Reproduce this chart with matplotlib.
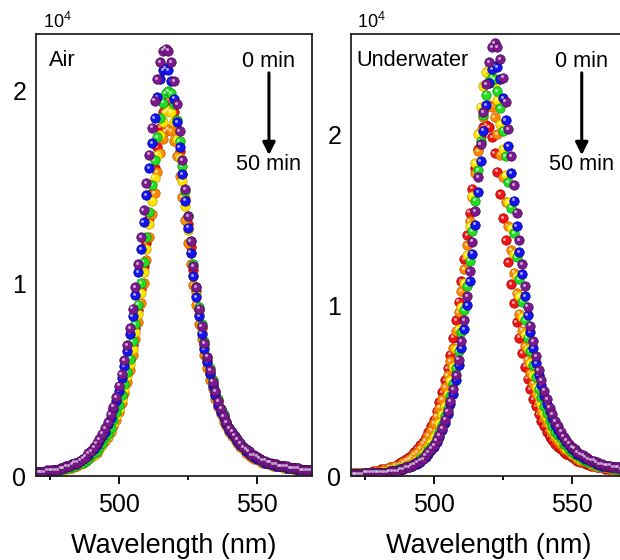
import numpy as np
import matplotlib
matplotlib.use("Agg")
import matplotlib.pyplot as plt
import matplotlib.transforms as mtransforms

plt.rcParams["font.family"] = ["Liberation Sans", "DejaVu Sans"]
plt.rcParams["mathtext.fontset"] = "custom"
plt.rcParams["mathtext.rm"] = "Liberation Sans"

# wavelength grid (nm), 1 nm steps
wavelength = np.arange(470, 571)

# intensity in units of 1e4
air_red = [
    0.02, 0.02, 0.02, 0.02, 0.02, 0.02, 0.02, 0.03, 0.03, 0.03,
    0.04, 0.04, 0.04, 0.05, 0.05, 0.06, 0.06, 0.07, 0.08, 0.09,
    0.10, 0.12, 0.13, 0.15, 0.17, 0.19, 0.22, 0.25, 0.28, 0.32,
    0.36, 0.41, 0.47, 0.53, 0.60, 0.68, 0.77, 0.86, 0.97, 1.09,
    1.21, 1.34, 1.47, 1.60, 1.71, 1.81, 1.89, 1.94, 1.95, 1.94,
    1.89, 1.80, 1.69, 1.57, 1.44, 1.31, 1.19, 1.07, 0.96, 0.86,
    0.77, 0.68, 0.61, 0.54, 0.48, 0.43, 0.39, 0.34, 0.31, 0.28,
    0.25, 0.22, 0.20, 0.18, 0.16, 0.15, 0.13, 0.12, 0.11, 0.10,
    0.09, 0.09, 0.08, 0.07, 0.07, 0.06, 0.06, 0.05, 0.05, 0.05,
    0.04, 0.04, 0.04, 0.04, 0.04, 0.03, 0.03, 0.03, 0.03, 0.03,
    0.03]
air_orange = [
    0.02, 0.02, 0.02, 0.02, 0.02, 0.02, 0.02, 0.03, 0.03, 0.03,
    0.03, 0.04, 0.04, 0.04, 0.05, 0.05, 0.06, 0.07, 0.08, 0.09,
    0.10, 0.11, 0.12, 0.14, 0.16, 0.18, 0.20, 0.23, 0.26, 0.29,
    0.33, 0.38, 0.43, 0.49, 0.55, 0.63, 0.71, 0.80, 0.90, 1.00,
    1.12, 1.24, 1.36, 1.47, 1.58, 1.68, 1.75, 1.79, 1.80, 1.79,
    1.74, 1.66, 1.56, 1.45, 1.33, 1.21, 1.10, 0.99, 0.89, 0.79,
    0.71, 0.63, 0.56, 0.50, 0.45, 0.40, 0.36, 0.32, 0.28, 0.26,
    0.23, 0.21, 0.19, 0.17, 0.15, 0.14, 0.12, 0.11, 0.10, 0.09,
    0.09, 0.08, 0.07, 0.07, 0.06, 0.06, 0.05, 0.05, 0.05, 0.05,
    0.04, 0.04, 0.04, 0.04, 0.03, 0.03, 0.03, 0.03, 0.03, 0.03,
    0.03]
air_yellow = [
    0.02, 0.02, 0.02, 0.02, 0.02, 0.02, 0.02, 0.03, 0.03, 0.03,
    0.03, 0.04, 0.04, 0.05, 0.05, 0.06, 0.06, 0.07, 0.08, 0.09,
    0.10, 0.11, 0.13, 0.14, 0.16, 0.19, 0.21, 0.24, 0.27, 0.31,
    0.35, 0.40, 0.45, 0.52, 0.58, 0.66, 0.75, 0.84, 0.95, 1.06,
    1.18, 1.31, 1.43, 1.55, 1.67, 1.77, 1.84, 1.89, 1.90, 1.89,
    1.84, 1.75, 1.65, 1.53, 1.40, 1.28, 1.16, 1.04, 0.94, 0.84,
    0.75, 0.67, 0.59, 0.53, 0.47, 0.42, 0.38, 0.34, 0.30, 0.27,
    0.24, 0.22, 0.20, 0.18, 0.16, 0.14, 0.13, 0.12, 0.11, 0.10,
    0.09, 0.08, 0.08, 0.07, 0.07, 0.06, 0.06, 0.05, 0.05, 0.05,
    0.04, 0.04, 0.04, 0.04, 0.04, 0.03, 0.03, 0.03, 0.03, 0.03,
    0.03]
air_green = [
    0.02, 0.02, 0.02, 0.02, 0.02, 0.02, 0.02, 0.03, 0.03, 0.03,
    0.04, 0.04, 0.04, 0.05, 0.05, 0.06, 0.07, 0.07, 0.08, 0.09,
    0.11, 0.12, 0.13, 0.15, 0.17, 0.20, 0.22, 0.25, 0.29, 0.33,
    0.37, 0.42, 0.48, 0.54, 0.61, 0.70, 0.79, 0.89, 1.00, 1.11,
    1.24, 1.37, 1.51, 1.64, 1.76, 1.86, 1.94, 1.99, 2.00, 1.99,
    1.93, 1.85, 1.74, 1.61, 1.48, 1.35, 1.22, 1.10, 0.98, 0.88,
    0.79, 0.70, 0.62, 0.56, 0.50, 0.44, 0.40, 0.35, 0.32, 0.28,
    0.25, 0.23, 0.21, 0.19, 0.17, 0.15, 0.14, 0.13, 0.11, 0.10,
    0.10, 0.09, 0.08, 0.07, 0.07, 0.06, 0.06, 0.06, 0.05, 0.05,
    0.05, 0.04, 0.04, 0.04, 0.04, 0.04, 0.03, 0.03, 0.03, 0.03,
    0.03]
air_blue = [
    0.02, 0.02, 0.02, 0.02, 0.02, 0.02, 0.03, 0.03, 0.03, 0.04,
    0.04, 0.05, 0.05, 0.06, 0.06, 0.07, 0.08, 0.09, 0.10, 0.11,
    0.13, 0.14, 0.16, 0.18, 0.21, 0.23, 0.27, 0.30, 0.35, 0.39,
    0.44, 0.51, 0.57, 0.65, 0.74, 0.83, 0.94, 1.06, 1.18, 1.32,
    1.46, 1.60, 1.73, 1.86, 1.97, 2.06, 2.11, 2.12, 2.11, 2.05,
    1.96, 1.84, 1.71, 1.57, 1.43, 1.29, 1.16, 1.04, 0.93, 0.83,
    0.74, 0.66, 0.59, 0.53, 0.47, 0.42, 0.37, 0.33, 0.30, 0.27,
    0.24, 0.22, 0.20, 0.18, 0.16, 0.15, 0.13, 0.12, 0.11, 0.10,
    0.09, 0.09, 0.08, 0.07, 0.07, 0.06, 0.06, 0.05, 0.05, 0.05,
    0.05, 0.04, 0.04, 0.04, 0.04, 0.03, 0.03, 0.03, 0.03, 0.03,
    0.03]
air_purple = [
    0.02, 0.02, 0.02, 0.02, 0.03, 0.03, 0.03, 0.03, 0.03, 0.04,
    0.04, 0.05, 0.05, 0.06, 0.07, 0.07, 0.08, 0.09, 0.10, 0.12,
    0.13, 0.15, 0.17, 0.19, 0.22, 0.25, 0.28, 0.32, 0.36, 0.41,
    0.47, 0.53, 0.60, 0.68, 0.77, 0.87, 0.98, 1.10, 1.24, 1.38,
    1.52, 1.67, 1.81, 1.95, 2.06, 2.15, 2.21, 2.22, 2.21, 2.15,
    2.05, 1.93, 1.79, 1.64, 1.49, 1.35, 1.22, 1.09, 0.98, 0.87,
    0.78, 0.69, 0.62, 0.55, 0.49, 0.44, 0.39, 0.35, 0.31, 0.28,
    0.25, 0.23, 0.21, 0.19, 0.17, 0.15, 0.14, 0.13, 0.11, 0.11,
    0.10, 0.09, 0.08, 0.08, 0.07, 0.07, 0.06, 0.06, 0.05, 0.05,
    0.05, 0.05, 0.04, 0.04, 0.04, 0.04, 0.03, 0.03, 0.03, 0.03,
    0.03]

uw_red = [
    0.02, 0.02, 0.02, 0.02, 0.02, 0.02, 0.02, 0.02, 0.03, 0.03,
    0.03, 0.04, 0.04, 0.04, 0.05, 0.05, 0.06, 0.07, 0.08, 0.09,
    0.10, 0.11, 0.12, 0.14, 0.16, 0.18, 0.20, 0.23, 0.26, 0.29,
    0.33, 0.38, 0.43, 0.49, 0.56, 0.63, 0.71, 0.81, 0.91, 1.02,
    1.14, 1.27, 1.41, 1.54, 1.68, 1.80, 1.91, 1.99, 2.04, 2.05,
    2.04, 1.98, 1.89, 1.78, 1.65, 1.51, 1.38, 1.25, 1.12, 1.01,
    0.90, 0.81, 0.72, 0.64, 0.57, 0.51, 0.45, 0.41, 0.36, 0.32,
    0.29, 0.26, 0.23, 0.21, 0.19, 0.17, 0.16, 0.14, 0.13, 0.12,
    0.11, 0.10, 0.09, 0.08, 0.08, 0.07, 0.07, 0.06, 0.06, 0.05,
    0.05, 0.05, 0.04, 0.04, 0.04, 0.04, 0.04, 0.03, 0.03, 0.03,
    0.03]
uw_orange = [
    0.01, 0.02, 0.02, 0.02, 0.02, 0.02, 0.02, 0.02, 0.02, 0.03,
    0.03, 0.03, 0.04, 0.04, 0.05, 0.05, 0.06, 0.06, 0.07, 0.08,
    0.09, 0.10, 0.11, 0.13, 0.14, 0.16, 0.19, 0.21, 0.24, 0.27,
    0.31, 0.35, 0.40, 0.45, 0.52, 0.59, 0.67, 0.75, 0.85, 0.96,
    1.08, 1.21, 1.35, 1.49, 1.63, 1.77, 1.90, 2.02, 2.10, 2.16,
    2.17, 2.16, 2.10, 2.00, 1.88, 1.75, 1.60, 1.46, 1.32, 1.19,
    1.07, 0.95, 0.85, 0.76, 0.68, 0.60, 0.54, 0.48, 0.43, 0.38,
    0.34, 0.31, 0.27, 0.25, 0.22, 0.20, 0.18, 0.16, 0.15, 0.14,
    0.12, 0.11, 0.10, 0.09, 0.09, 0.08, 0.08, 0.07, 0.06, 0.06,
    0.06, 0.05, 0.05, 0.05, 0.04, 0.04, 0.04, 0.04, 0.04, 0.03,
    0.03]
uw_yellow = [
    0.01, 0.01, 0.01, 0.02, 0.02, 0.02, 0.02, 0.02, 0.02, 0.02,
    0.02, 0.02, 0.02, 0.03, 0.03, 0.03, 0.04, 0.04, 0.05, 0.05,
    0.06, 0.06, 0.07, 0.08, 0.10, 0.11, 0.13, 0.15, 0.17, 0.20,
    0.23, 0.26, 0.31, 0.36, 0.41, 0.48, 0.56, 0.64, 0.74, 0.86,
    0.99, 1.13, 1.29, 1.46, 1.64, 1.83, 2.00, 2.16, 2.28, 2.36,
    2.38, 2.37, 2.30, 2.20, 2.06, 1.91, 1.76, 1.60, 1.45, 1.30,
    1.17, 1.05, 0.93, 0.83, 0.74, 0.66, 0.59, 0.52, 0.47, 0.42,
    0.37, 0.34, 0.30, 0.27, 0.24, 0.22, 0.20, 0.18, 0.16, 0.15,
    0.13, 0.12, 0.11, 0.10, 0.10, 0.09, 0.08, 0.07, 0.07, 0.06,
    0.06, 0.06, 0.05, 0.05, 0.05, 0.05, 0.04, 0.04, 0.04, 0.04,
    0.04]
uw_green = [
    0.01, 0.01, 0.01, 0.01, 0.02, 0.02, 0.02, 0.02, 0.02, 0.02,
    0.02, 0.02, 0.02, 0.02, 0.03, 0.03, 0.03, 0.04, 0.04, 0.04,
    0.05, 0.06, 0.06, 0.07, 0.08, 0.10, 0.11, 0.13, 0.15, 0.17,
    0.19, 0.22, 0.26, 0.30, 0.35, 0.40, 0.47, 0.54, 0.63, 0.73,
    0.84, 0.97, 1.11, 1.26, 1.43, 1.61, 1.79, 1.96, 2.11, 2.23,
    2.31, 2.33, 2.32, 2.25, 2.15, 2.02, 1.87, 1.72, 1.57, 1.42,
    1.28, 1.15, 1.02, 0.91, 0.81, 0.73, 0.65, 0.58, 0.51, 0.46,
    0.41, 0.37, 0.33, 0.29, 0.26, 0.24, 0.22, 0.19, 0.18, 0.16,
    0.14, 0.13, 0.12, 0.11, 0.10, 0.09, 0.08, 0.08, 0.07, 0.07,
    0.06, 0.06, 0.06, 0.05, 0.05, 0.05, 0.04, 0.04, 0.04, 0.04,
    0.04]
uw_blue = [
    0.01, 0.01, 0.01, 0.01, 0.01, 0.02, 0.02, 0.02, 0.02, 0.02,
    0.02, 0.02, 0.02, 0.02, 0.02, 0.03, 0.03, 0.03, 0.04, 0.04,
    0.05, 0.05, 0.06, 0.07, 0.07, 0.08, 0.10, 0.11, 0.13, 0.15,
    0.17, 0.20, 0.23, 0.27, 0.31, 0.36, 0.42, 0.48, 0.56, 0.65,
    0.75, 0.86, 1.00, 1.14, 1.30, 1.47, 1.66, 1.84, 2.02, 2.17,
    2.30, 2.38, 2.40, 2.39, 2.32, 2.21, 2.08, 1.93, 1.77, 1.61,
    1.46, 1.31, 1.18, 1.05, 0.94, 0.84, 0.75, 0.66, 0.59, 0.53,
    0.47, 0.42, 0.38, 0.34, 0.30, 0.27, 0.24, 0.22, 0.20, 0.18,
    0.16, 0.15, 0.13, 0.12, 0.11, 0.10, 0.10, 0.09, 0.08, 0.07,
    0.07, 0.06, 0.06, 0.06, 0.05, 0.05, 0.05, 0.05, 0.04, 0.04,
    0.04]
uw_purple = [
    0.01, 0.01, 0.01, 0.01, 0.01, 0.02, 0.02, 0.02, 0.02, 0.02,
    0.02, 0.02, 0.02, 0.02, 0.03, 0.03, 0.03, 0.03, 0.04, 0.04,
    0.05, 0.05, 0.06, 0.07, 0.08, 0.09, 0.10, 0.12, 0.14, 0.16,
    0.18, 0.21, 0.24, 0.28, 0.33, 0.38, 0.44, 0.51, 0.59, 0.68,
    0.79, 0.91, 1.05, 1.20, 1.37, 1.55, 1.75, 1.94, 2.13, 2.29,
    2.42, 2.51, 2.53, 2.51, 2.44, 2.33, 2.19, 2.03, 1.87, 1.70,
    1.54, 1.38, 1.24, 1.11, 0.99, 0.88, 0.79, 0.70, 0.62, 0.56,
    0.50, 0.45, 0.40, 0.36, 0.32, 0.29, 0.26, 0.23, 0.21, 0.19,
    0.17, 0.16, 0.14, 0.13, 0.12, 0.11, 0.10, 0.09, 0.09, 0.08,
    0.07, 0.07, 0.06, 0.06, 0.06, 0.05, 0.05, 0.05, 0.04, 0.04,
    0.04]

# plotting order: first is at the bottom
colors = ["#f01414", "#ff8a00", "#ffe400", "#22dd22", "#1414f0", "#7b1a8c"]
edges = ["#a00000", "#c05800", "#c0a000", "#109010", "#000090", "#4a0a58"]

air_series = [air_red, air_orange, air_yellow, air_green, air_blue, air_purple]
uw_series = [uw_red, uw_orange, uw_yellow, uw_green, uw_blue, uw_purple]

fig = plt.figure(figsize=(6.2, 5.6), dpi=100)

# panel boxes in pixels: left, bottom, width, height
ax1 = fig.add_axes([36 / 620, 84 / 560, 276 / 620, 442 / 560])
ax2 = fig.add_axes([351 / 620, 84 / 560, 276 / 620, 442 / 560])


def draw_balls(ax, y, color, edge):
    ax.plot(wavelength, y, ls="none", marker="o", ms=6.8,
            mfc=color, mec=edge, mew=0.5)
    shift = mtransforms.ScaledTranslation(-0.9 / 72, 0.9 / 72, fig.dpi_scale_trans)
    ax.plot(wavelength, y, ls="none", marker="o", ms=2.2,
            mfc="white", mec="none", alpha=0.6, transform=ax.transData + shift)


def style_axis(ax, ymax, label, xt):
    ax.set_xlim(470, 570)
    ax.set_ylim(0, ymax)
    ax.set_xticks([500, 550])
    ax.set_xticks([475, 525], minor=True)
    ax.set_yticks([0, 1, 2])
    ax.tick_params(axis="x", which="major", direction="out", length=6,
                   width=1.3, pad=6, labelsize=18)
    ax.tick_params(axis="x", which="minor", direction="out", length=3, width=1.3)
    ax.tick_params(axis="y", length=0, pad=7, labelsize=18)
    for sp in ax.spines.values():
        sp.set_linewidth(1.3)
        sp.set_color("#222222")
    ax.set_xlabel("Wavelength (nm)", fontsize=19.5, labelpad=12)

    ax.text(xt[0], 0.941, label, transform=ax.transAxes, fontsize=15.7,
            ha="left", va="center")
    ax.text(xt[1], 1.004, r"$\mathregular{10^4}$", transform=ax.transAxes,
            fontsize=13, ha="left", va="bottom")
    ax.text(xt[2], 0.937, "0 min", transform=ax.transAxes, fontsize=15.7,
            ha="center", va="center")
    ax.text(xt[2], 0.704, "50 min", transform=ax.transAxes, fontsize=15.7,
            ha="center", va="center")
    ax.annotate("", xy=(xt[2], 0.726), xytext=(xt[2], 0.912),
                xycoords="axes fraction",
                arrowprops=dict(arrowstyle="-|>,head_length=0.5,head_width=0.25",
                                mutation_scale=15, lw=2.2, color="black",
                                shrinkA=0, shrinkB=0))


for y, c, e in zip(air_series, colors, edges):
    draw_balls(ax1, y, c, e)
for y, c, e in zip(uw_series, colors, edges):
    draw_balls(ax2, y, c, e)

style_axis(ax1, 2.296, "Air", (0.047, 0.025, 0.844))
style_axis(ax2, 2.585, "Underwater", (0.021, 0.02, 0.836))

fig.savefig("out.png", dpi=100)
